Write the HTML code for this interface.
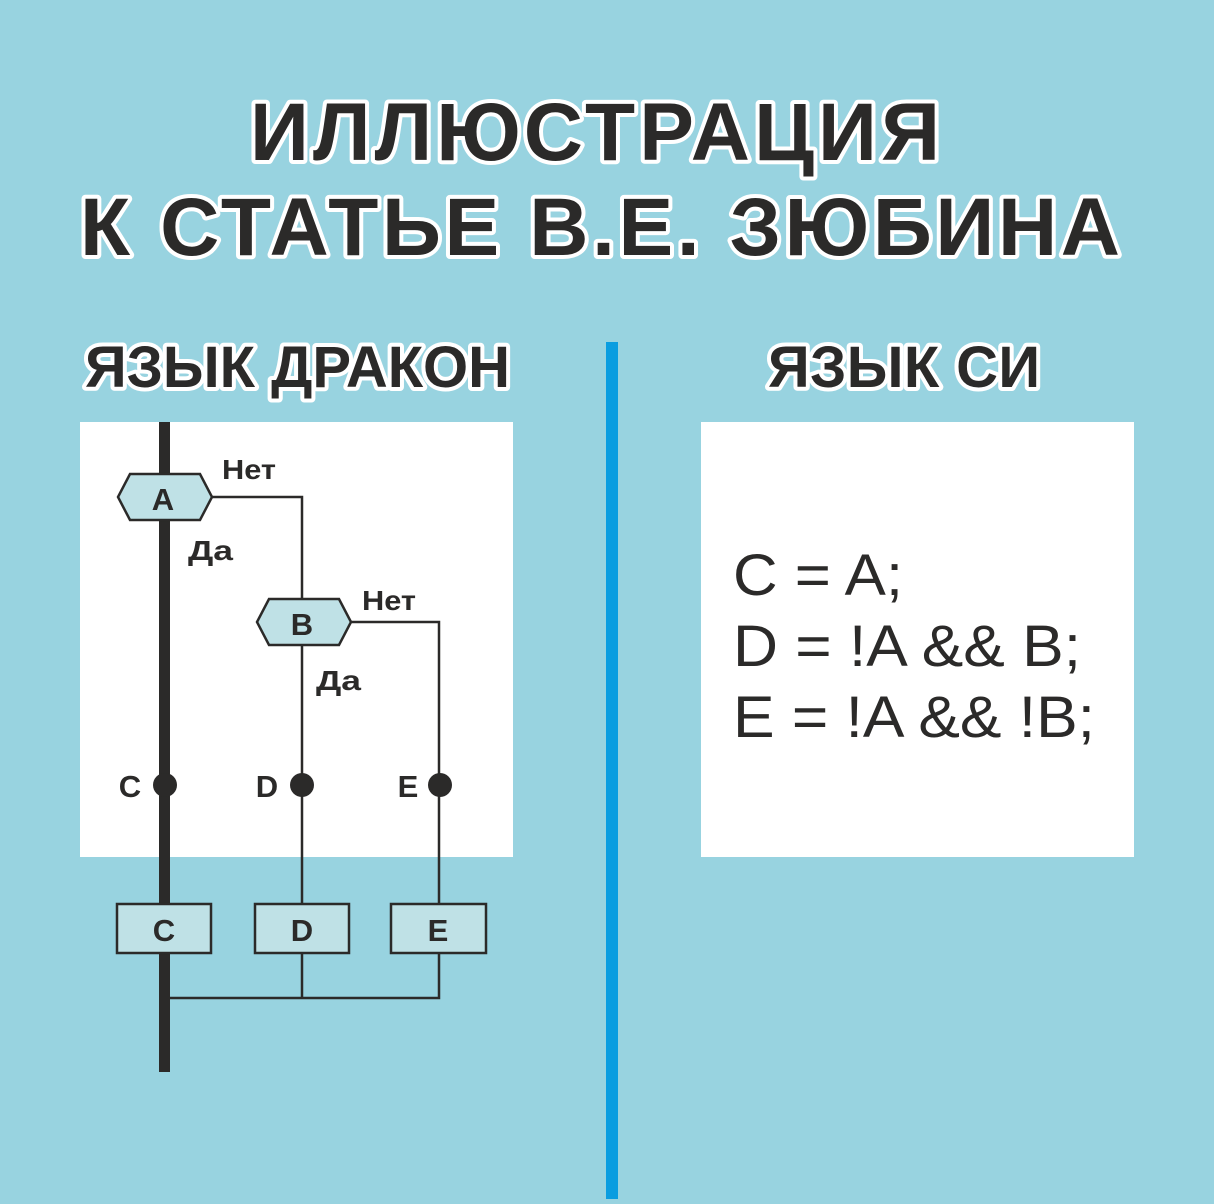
<!DOCTYPE html>
<html><head><meta charset="utf-8"><style>html,body{margin:0;padding:0;background:#98d3e0}</style></head>
<body>
<svg width="1214" height="1199" viewBox="0 0 1214 1199" xmlns="http://www.w3.org/2000/svg" font-family="Liberation Sans, sans-serif">
<rect width="1214" height="1199" fill="#98d3e0"/>
<g font-weight="bold" fill="#2b2a29" stroke="#fff" stroke-width="8" paint-order="stroke" stroke-linejoin="round">
<text x="250" y="160" font-size="82" textLength="690" lengthAdjust="spacing">ИЛЛЮСТРАЦИЯ</text>
<text x="80" y="255" font-size="82" textLength="1040" lengthAdjust="spacing">К СТАТЬЕ В.Е. ЗЮБИНА</text>
<text x="85" y="387" font-size="58" textLength="425" lengthAdjust="spacing">ЯЗЫК ДРАКОН</text>
<text x="768" y="387" font-size="58" textLength="272" lengthAdjust="spacing">ЯЗЫК СИ</text>
</g>
<rect x="80" y="422" width="433" height="435" fill="#fff"/>
<rect x="701" y="422" width="433" height="435" fill="#fff"/>
<rect x="606" y="342" width="12" height="857" fill="#0a9de0"/>
<g stroke="#2b2a29" stroke-width="2.5" fill="none">
<polyline points="212,497 302,497 302,598"/>
<polyline points="351,622 439,622 439,903"/>
<line x1="302" y1="646" x2="302" y2="903"/>
<polyline points="165,998 439,998 439,953"/>
<line x1="302" y1="953" x2="302" y2="998"/>
</g>
<rect x="159" y="422" width="11" height="650" fill="#2b2a29"/>
<g fill="#bfe1e6" stroke="#2b2a29" stroke-width="2.5">
<polygon points="130,474 200,474 212,497 200,520 130,520 118,497"/>
<polygon points="269,599 339,599 351,622 339,645 269,645 257,622"/>
<rect x="117" y="904" width="94" height="49"/>
<rect x="255" y="904" width="94" height="49"/>
<rect x="391" y="904" width="95" height="49"/>
</g>
<g fill="#2b2a29">
<circle cx="165" cy="785" r="12"/><circle cx="302" cy="785" r="12"/><circle cx="440" cy="785" r="12"/>
</g>
<g fill="#2b2a29" font-weight="bold" font-size="31" text-anchor="middle">
<text x="163" y="510">A</text><text x="302" y="635">B</text>
<text x="164" y="941">C</text><text x="302" y="941">D</text><text x="438" y="941">E</text>
<text x="130" y="797">C</text><text x="267" y="797">D</text><text x="408" y="797">E</text>
</g>
<g fill="#2b2a29" font-weight="bold" font-size="28">
<text x="222" y="479" textLength="54" lengthAdjust="spacingAndGlyphs">Нет</text><text x="188" y="560" textLength="45" lengthAdjust="spacingAndGlyphs">Да</text>
<text x="362" y="610" textLength="54" lengthAdjust="spacingAndGlyphs">Нет</text><text x="316" y="690" textLength="45" lengthAdjust="spacingAndGlyphs">Да</text>
</g>
<g fill="#2b2a29" font-size="58">
<text x="733" y="595" textLength="170" lengthAdjust="spacingAndGlyphs">C = A;</text>
<text x="733" y="666" textLength="348" lengthAdjust="spacingAndGlyphs">D = !A &amp;&amp; B;</text>
<text x="733" y="737" textLength="362" lengthAdjust="spacingAndGlyphs">E = !A &amp;&amp; !B;</text>
</g>
</svg>
</body></html>
